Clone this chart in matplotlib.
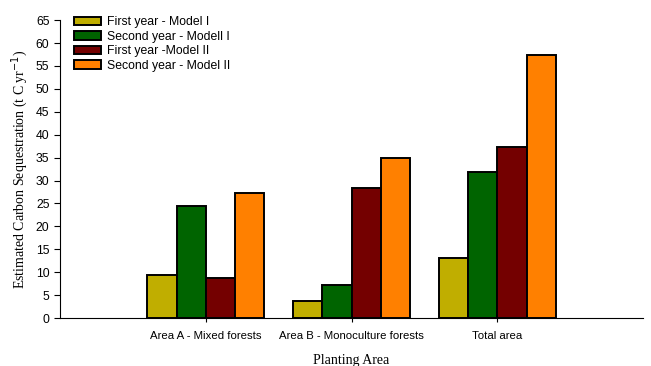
import matplotlib.pyplot as plt
import numpy as np

areas = ['Area A - Mixed forests', 'Area B - Monoculture forests', 'Total area']
series = ['First year - Model I', 'Second year - Modell I', 'First year -Model II', 'Second year - Model II']
first_m1 = [9.4, 3.7, 13.2]
second_m1 = [24.5, 7.3, 31.8]
first_m2 = [8.8, 28.3, 37.3]
second_m2 = [27.2, 35.0, 57.4]
colors = ['#c0ae00', '#006400', '#740000', '#ff8000']

values = [first_m1, second_m1, first_m2, second_m2]

fig = plt.figure(figsize=(6.51, 3.66), dpi=100)
ax = fig.add_axes([0.092, 0.131, 0.896, 0.814])

x = np.arange(1, len(areas) + 1)
w = 0.2
for i, (vals, lab, c) in enumerate(zip(values, series, colors)):
    ax.bar(x + (i - 1.5) * w, vals, w, color=c, edgecolor='black', linewidth=1.4, label=lab)

ax.set_xlim(0, 4)
ax.set_ylim(0, 65)
ax.set_yticks(np.arange(0, 66, 5))
ax.set_xticks(x)
ax.set_xticklabels(areas, fontsize=8.2, family='Liberation Sans')
for t in ax.get_yticklabels():
    t.set_fontsize(8.8)
    t.set_family('Liberation Sans')
ax.spines['top'].set_visible(False)
ax.spines['right'].set_visible(False)
ax.tick_params(axis='y', direction='out', length=4, width=0.8)
ax.tick_params(axis='x', direction='out', length=3, width=0.8, pad=6)

ax.set_xlabel('Planting Area', family='Liberation Serif', fontsize=10, labelpad=10)
ax.set_ylabel('Estimated Carbon Sequestration (t C yr$^{-1}$)', family='Liberation Serif', fontsize=10)

leg = ax.legend(loc='upper left', bbox_to_anchor=(0.005, 1.05), frameon=False,
                prop={'family': 'Liberation Sans', 'size': 8.8},
                handlelength=2.2, handleheight=0.7, labelspacing=0.2, handletextpad=0.5)

fig.savefig('out.png', dpi=100)
